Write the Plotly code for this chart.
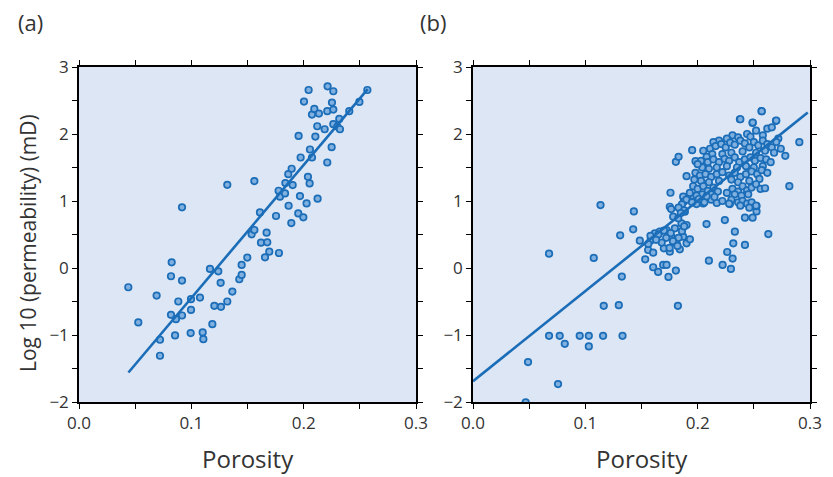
import plotly.graph_objects as go

# ---------- Panel (a) data ----------
por_a = [0.0439, 0.0528, 0.0691, 0.0721, 0.0721, 0.0825, 0.0819, 0.0917, 0.0819, 0.0863,
         0.0855, 0.0884, 0.0917, 0.0917, 0.0997, 0.0997, 0.0994, 0.1077, 0.1101, 0.1107,
         0.1187, 0.1166, 0.1240, 0.1261, 0.1205, 0.1264, 0.1320, 0.1365, 0.1320, 0.1427,
         0.1448, 0.1448, 0.1498, 0.1537, 0.1561, 0.1561, 0.1611, 0.1620, 0.1670, 0.1676,
         0.1694, 0.1656, 0.1780, 0.1754, 0.1777, 0.1789, 0.1837, 0.1834, 0.1866, 0.1890,
         0.1863, 0.1893, 0.1902, 0.1955, 0.1952, 0.1967, 0.1973, 0.1997, 0.2026, 0.2003,
         0.2044, 0.2038, 0.2053, 0.2056, 0.2074, 0.2074, 0.2095, 0.2136, 0.2121, 0.2104,
         0.2124, 0.2187, 0.2210, 0.2213, 0.2210, 0.2252, 0.2264, 0.2264, 0.2249, 0.2264,
         0.2300, 0.2317, 0.2323, 0.2406, 0.2496, 0.2567]
logk_a = [-0.287, -0.813, -0.411, -1.071, -1.310, 0.085, -0.123, -0.188, -0.699, -0.764,
          -1.007, -0.500, -0.709, 0.905, -0.466, -0.625, -0.972, -0.441, -0.962, -1.062,
          -0.838, -0.014, -0.049, -0.222, -0.565, -0.580, -0.500, -0.352, 1.242, -0.168,
          -0.103, 0.046, 0.155, 0.502, 0.567, 1.297, 0.830, 0.378, 0.527, 0.383,
          0.244, 0.160, 0.224, 0.776, 1.153, 1.064, 1.267, 1.113, 0.929, 0.671,
          1.401, 1.481, 1.237, 1.972, 0.815, 1.073, 1.649, 0.756, 0.964, 2.484,
          2.657, 1.361, 1.262, 1.769, 1.649, 2.290, 2.374, 2.305, 2.116, 1.962,
          1.034, 2.071, 1.575, 2.712, 2.340, 2.469, 2.638, 2.364, 1.803, 2.146,
          2.111, 2.225, 2.071, 2.340, 2.479, 2.657]
fit_a_x = [0.044, 0.257]
fit_a_y = [-1.56, 2.67]

# ---------- Panel (b) data ----------
por_b = [
    0.0469, 0.0490, 0.0757, 0.0677, 0.0677, 0.0772, 0.0817, 0.0950, 0.1031, 0.1031,
    0.1158, 0.1331, 0.1164, 0.1298, 0.1075, 0.1135, 0.1310, 0.1325, 0.1426, 0.1432,
    0.1485, 0.1533, 0.1559, 0.1580, 0.1604, 0.1604, 0.1648, 0.1693, 0.1723, 0.1740,
    0.1806, 0.1824, 0.1619, 0.1663, 0.1699, 0.1752, 0.1723, 0.1767, 0.1797, 0.1812,
    0.1841, 0.1856, 0.1871, 0.1901, 0.1901, 0.1931, 0.1782, 0.1827, 0.1886, 0.1752,
    0.1758, 0.1764, 0.1806, 0.1830, 0.1901, 0.1951, 0.1981, 0.1871, 0.1877, 0.1960,
    0.1990, 0.2049, 0.2079, 0.2100, 0.2222, 0.2296, 0.2311, 0.2263, 0.2317, 0.2331,
    0.2421, 0.2242, 0.2421, 0.2489, 0.2629, 0.2816, 0.2905, 0.2780, 0.2697, 0.2569,
    0.2376, 0.2489, 0.2718, 0.2287, 0.2524, 0.2524,
    # dense cluster
    0.238, 0.249, 0.257, 0.262, 0.266, 0.270, 0.252, 0.244, 0.231, 0.226, 0.219, 0.214, 0.258, 0.236, 0.247,
    0.205, 0.211, 0.216, 0.221, 0.225, 0.229, 0.233, 0.238, 0.242, 0.246, 0.250, 0.254, 0.258, 0.262, 0.266,
    0.270, 0.274, 0.268, 0.260, 0.252, 0.240, 0.230, 0.222, 0.213, 0.208,
    0.203, 0.209, 0.214, 0.219, 0.224, 0.228, 0.233, 0.237, 0.242, 0.247, 0.251, 0.256, 0.261, 0.265,
    0.258, 0.250, 0.243, 0.235, 0.226, 0.217, 0.210, 0.204, 0.200,
    0.198, 0.202, 0.207, 0.212, 0.217, 0.222, 0.228, 0.233, 0.238, 0.243, 0.248, 0.253, 0.257, 0.262,
    0.255, 0.246, 0.236, 0.230, 0.219, 0.210, 0.203, 0.197,
    0.196, 0.200, 0.205, 0.209, 0.214, 0.218, 0.231, 0.236, 0.240, 0.244, 0.248, 0.252, 0.256, 0.260,
    0.245, 0.239, 0.233, 0.226, 0.212, 0.204, 0.199, 0.193,
    0.190, 0.195, 0.201, 0.206, 0.212, 0.217, 0.222, 0.230, 0.236, 0.240, 0.244, 0.248, 0.252, 0.246,
    0.238, 0.228, 0.215, 0.208, 0.186, 0.183, 0.188, 0.185,
    0.165, 0.170, 0.176, 0.183, 0.178, 0.172, 0.186, 0.168, 0.182, 0.175, 0.188, 0.163, 0.158, 0.156,
]
logk_b = [
    -2.005, -1.404, -1.732, 0.214, -1.012, -1.012, -1.131, -1.012, -1.012, -1.171,
    -1.012, -1.012, -0.565, -0.555, 0.150, 0.939, 0.488, -0.128, 0.577, 0.845,
    0.408, 0.130, 0.269, 0.408, 0.229, 0.011, -0.059, 0.046, 0.046, -0.133,
    -0.039, -0.565, 0.517, 0.542, 0.294, 0.244, 0.567, 0.468, 0.592, 0.368,
    0.279, 0.666, 0.468, 0.642, 0.368, 0.428, 0.766, 0.741, 0.840, 0.914,
    1.123, 0.880, 1.585, 1.659, 1.371, 1.759, 1.595, 1.064, 0.989, 1.074,
    0.954, 0.964, 0.656, 0.110, 0.046, -0.014, 0.140, 0.239, 0.368, 0.542,
    0.344, 0.716, 0.751, 0.751, 0.507, 1.222, 1.878, 1.674, 2.196, 2.340,
    2.220, 2.166, 1.932, 0.954, 0.845, 0.925,
    # dense cluster
    2.22, 2.17, 2.34, 2.08, 2.10, 2.20, 2.05, 2.00, 1.98, 1.93, 1.90, 1.88, 1.98, 1.95, 1.96,
    1.75, 1.78, 1.82, 1.85, 1.80, 1.87, 1.84, 1.90, 1.86, 1.80, 1.88, 1.83, 1.90, 1.85, 1.80,
    1.88, 1.78, 1.72, 1.75, 1.72, 1.74, 1.72, 1.70, 1.70, 1.66,
    1.60, 1.58, 1.62, 1.58, 1.63, 1.60, 1.65, 1.58, 1.62, 1.65, 1.60, 1.64, 1.62, 1.58,
    1.52, 1.50, 1.52, 1.50, 1.52, 1.50, 1.48, 1.50, 1.55,
    1.42, 1.38, 1.40, 1.36, 1.40, 1.43, 1.38, 1.42, 1.36, 1.40, 1.44, 1.40, 1.46, 1.42,
    1.33, 1.30, 1.28, 1.32, 1.30, 1.28, 1.30, 1.32,
    1.22, 1.18, 1.22, 1.15, 1.20, 1.14, 1.18, 1.14, 1.22, 1.16, 1.20, 1.25, 1.18, 1.19,
    1.10, 1.08, 1.10, 1.12, 1.10, 1.10, 1.08, 1.12,
    1.02, 0.98, 1.03, 0.98, 1.02, 0.97, 1.00, 1.02, 0.98, 1.00, 0.96, 0.98, 0.93, 0.90,
    0.93, 0.96, 1.06, 1.07, 0.95, 0.90, 0.86, 0.82,
    0.50, 0.56, 0.52, 0.45, 0.40, 0.45, 0.55, 0.38, 0.33, 0.30, 0.62, 0.42, 0.48, 0.36,
]
fit_b_x = [0.0, 0.298]
fit_b_y = [-1.69, 2.32]

x_ticks = [0.0, 0.1, 0.2, 0.3]
y_ticks = [-2, -1, 0, 1, 2, 3]

BLUE = "#1b6db8"
FILL = "#7fb0e0"
BG = "#dce6f4"
TXT = "#333333"
FONT = "Open Sans"

W, H = 833, 477

def px(x):
    return x / W

def py(y):
    return 1 - y / H

fig = go.Figure()

marker = dict(size=6.5, color=FILL, line=dict(color=BLUE, width=1.7))

fig.add_trace(go.Scatter(x=por_a, y=logk_a, mode="markers", marker=marker,
                         xaxis="x", yaxis="y", showlegend=False))
fig.add_trace(go.Scatter(x=fit_a_x, y=fit_a_y, mode="lines",
                         line=dict(color=BLUE, width=2.6),
                         xaxis="x", yaxis="y", showlegend=False))
fig.add_trace(go.Scatter(x=por_b, y=logk_b, mode="markers", marker=marker,
                         xaxis="x2", yaxis="y2", showlegend=False))
fig.add_trace(go.Scatter(x=fit_b_x, y=fit_b_y, mode="lines",
                         line=dict(color=BLUE, width=2.6),
                         xaxis="x2", yaxis="y2", showlegend=False))

dom_y = [py(402), py(67)]

def xax(dom, anchor):
    return dict(domain=dom, anchor=anchor, range=[0, 0.3], tickvals=x_ticks,
                tickformat=".1f", ticks="outside", ticklen=5, tickwidth=1.2,
                tickcolor="black", showline=True, linecolor="black", linewidth=1.5,
                mirror="allticks", showgrid=False, zeroline=False, automargin=False,
                tickfont=dict(family=FONT, size=17, color=TXT),
                minor=dict(dtick=0.05, tick0=0, ticks="outside", ticklen=5,
                           tickwidth=1.2, tickcolor="black", showgrid=False))

def yax(anchor):
    return dict(domain=dom_y, anchor=anchor, range=[-2, 3], tickvals=y_ticks,
                ticks="outside", ticklen=5, tickwidth=1.2, tickcolor="black",
                showline=True, linecolor="black", linewidth=1.5,
                mirror="allticks", showgrid=False, zeroline=False, automargin=False,
                tickfont=dict(family=FONT, size=17, color=TXT),
                minor=dict(dtick=0.5, tick0=0, ticks="outside", ticklen=5,
                           tickwidth=1.2, tickcolor="black", showgrid=False))

fig.update_layout(
    width=W, height=H,
    margin=dict(l=0, r=0, t=0, b=0),
    paper_bgcolor="white",
    plot_bgcolor=BG,
    xaxis=xax([px(79), px(416)], "y"),
    yaxis=yax("x"),
    xaxis2=xax([px(473), px(810)], "y2"),
    yaxis2=yax("x2"),
    showlegend=False,
)

def label(text, x, y, size, angle=0):
    return dict(text=text, x=px(x), y=py(y), xref="paper", yref="paper",
                xanchor="center", yanchor="middle", textangle=angle,
                showarrow=False, font=dict(family=FONT, size=size, color=TXT))

fig.update_layout(annotations=[
    label("Porosity", 248, 458, 24),
    label("Porosity", 642, 458, 24),
    label("Log 10 (permeability) (mD)", 28, 243, 21, -90),
    label("(a)", 30, 22, 22),
    label("(b)", 433, 22, 22),
])

fig.write_html(
    "out.html",
    post_script="document.body.style.margin='0';document.body.style.overflow='hidden';",
)
